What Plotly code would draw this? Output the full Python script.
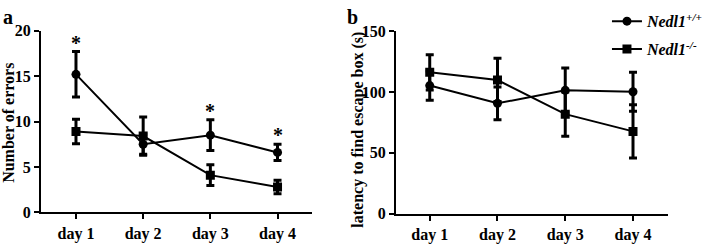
import plotly.graph_objects as go

days = ["day 1", "day 2", "day 3", "day 4"]

# Panel a: Number of errors
err_wt = [15.2, 7.5, 8.5, 6.6]
err_wt_sd = [2.5, 1.1, 1.7, 0.9]
err_ko = [8.9, 8.4, 4.1, 2.8]
err_ko_sd = [1.35, 2.1, 1.15, 0.75]
err_stars = [0, 2, 3]  # indices with significance

# Panel b: latency (s)
lat_wt = [105.3, 90.7, 101.4, 100.2]
lat_wt_sd = [12.0, 13.5, 18.4, 16.0]
lat_ko = [116.2, 109.9, 81.8, 67.6]
lat_ko_sd = [14.5, 17.8, 18.2, 22.0]

wt_name = "<b><i>Nedl1</i></b><sup><b><i>+/+</i></b></sup>"
ko_name = "<b><i>Nedl1</i></b><sup><b><i>-/-</i></b></sup>"

FONT = "Liberation Serif"
idx = list(range(len(days)))

fig = go.Figure()

def add(x, y, sd, sym, name, xa, ya, show, grp):
    fig.add_trace(go.Scatter(
        x=x, y=y, mode="lines+markers", name=name, showlegend=show,
        legendgroup=grp,
        xaxis=xa, yaxis=ya,
        line=dict(color="black", width=2),
        marker=dict(symbol=sym, size=9, color="black"),
        error_y=dict(type="data", array=sd, visible=True, color="black",
                     thickness=3, width=4),
    ))

add(idx, err_wt, err_wt_sd, "circle", wt_name, "x", "y", False, "wt")
add(idx, err_ko, err_ko_sd, "square", ko_name, "x", "y", False, "ko")
add(idx, lat_wt, lat_wt_sd, "circle", wt_name, "x2", "y2", True, "wt")
add(idx, lat_ko, lat_ko_sd, "square", ko_name, "x2", "y2", True, "ko")

for i in err_stars:
    fig.add_annotation(x=i, y=err_wt[i] + err_wt_sd[i], xref="x", yref="y",
                       text="<b>*</b>", showarrow=False, yanchor="bottom",
                       yshift=-4, font=dict(family=FONT, size=20, color="black"))

axis_common = dict(showline=True, linecolor="black", linewidth=2, ticks="outside",
                   ticklen=5, tickwidth=2, tickcolor="black", showgrid=False,
                   zeroline=False,
                   tickfont=dict(family=FONT, size=16, color="black"))

fig.update_layout(
    width=708, height=247, margin=dict(l=0, r=0, t=0, b=0),
    plot_bgcolor="white", paper_bgcolor="white",
    font=dict(family=FONT, color="black"),
    xaxis=dict(domain=[42/708, 319/708], range=[-0.52, 3.51],
               tickvals=idx, ticktext=[f"<b>{d}</b>" for d in days], anchor="y",
               **axis_common),
    yaxis=dict(domain=[27.5/247, 222.6/247], range=[0, 20], tickvals=[0, 5, 10, 15, 20],
               ticktext=[f"<b>{v}</b>" for v in [0, 5, 10, 15, 20]], anchor="x",
               **axis_common),
    xaxis2=dict(domain=[405/708, 683/708], range=[-0.50, 3.51],
                tickvals=idx, ticktext=[f"<b>{d}</b>" for d in days], anchor="y2",
                **axis_common),
    yaxis2=dict(domain=[26.3/247, 222/247], range=[0, 150], tickvals=[0, 50, 100, 150],
                ticktext=[f"<b>{v}</b>" for v in [0, 50, 100, 150]], anchor="x2",
                **axis_common),
    legend=dict(x=621/708, y=1 + 4/247, xanchor="left", yanchor="top",
                font=dict(family=FONT, size=16, color="black"),
                bgcolor="rgba(0,0,0,0)", tracegroupgap=4, itemwidth=30,
                traceorder="grouped"),
    annotations=list(fig.layout.annotations) + [
        dict(x=1/708, y=1, xref="paper", yref="paper", text="<b>a</b>",
             showarrow=False, xanchor="left", yanchor="top", yshift=4,
             font=dict(family=FONT, size=20, color="black")),
        dict(x=353/708, y=1, xref="paper", yref="paper", text="<b>b</b>",
             showarrow=False, xanchor="left", yanchor="top", yshift=4,
             font=dict(family=FONT, size=20, color="black")),
        dict(x=8.5/708, y=1 - 123/247, xref="paper", yref="paper",
             text="<b>Number of errors</b>", textangle=-90, showarrow=False,
             xanchor="center", yanchor="middle",
             font=dict(family=FONT, size=16, color="black")),
        dict(x=366/708, y=1 - 131/247, xref="paper", yref="paper",
             text="<b>latency to find escape box (s)</b>", textangle=-90, showarrow=False,
             xanchor="center", yanchor="middle",
             font=dict(family=FONT, size=16, color="black")),
    ],
)

fig.write_html("out.html")
